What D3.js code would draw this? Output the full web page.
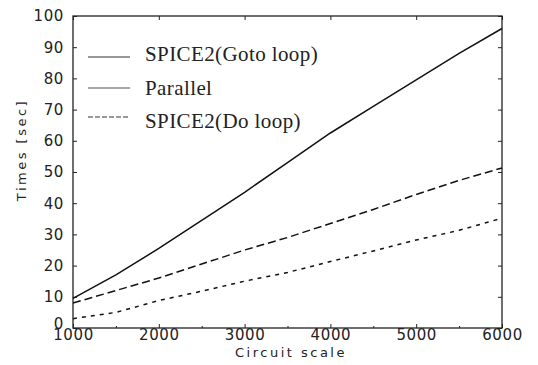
<!DOCTYPE html>
<html>
<head>
    <meta charset="UTF-8" />
    <title>Circuit scale vs time</title>
    <script src="https://d3js.org/d3.v7.min.js"></script>
    <style>
        body { margin: 0; background: #fff; }
        .tick text { font-family: "DejaVu Sans", sans-serif; font-size: 15px; letter-spacing: 0.6px; fill: #222; }
        .legend text { font-family: "Liberation Serif", "Times New Roman", serif; font-size: 21px; letter-spacing: 0.4px; fill: #222; }
        .title { font-family: "DejaVu Sans", sans-serif; font-size: 13px; letter-spacing: 2.5px; fill: #222; }
    </style>
</head>
<body>
<script type="text/javascript">

var scales = [1000, 1500, 2000, 2500, 3000, 3500, 4000, 4500, 5000, 5500, 6000]

var gotoLoop = [9.5, 17, 25.5, 34.5, 43.5, 53, 62.5, 71, 79.5, 88, 96]
var doLoop   = [8, 12, 16, 20.5, 25, 29, 33.5, 38, 42.8, 47.3, 51.3]
var parallel = [3, 5, 8.8, 11.8, 15, 17.8, 21.3, 24.7, 28.2, 31.3, 35.2]

var xTicks = [1000, 2000, 3000, 4000, 5000, 6000]
var yTicks = [0, 10, 20, 30, 40, 50, 60, 70, 80, 90, 100]

var legendNames = ["SPICE2(Goto loop)", "Parallel", "SPICE2(Do loop)"]

var width = 538
var height = 365
var margin = {left: 73, right: 36, top: 16, bottom: 37}

var svg = d3.select("body").append("svg")
    .attr("width", width)
    .attr("height", height)

var x = d3.scaleLinear().domain([1000, 6000]).range([margin.left, width - margin.right])
var y = d3.scaleLinear().domain([0, 100]).range([height - margin.bottom, margin.top])

// frame
svg.append("rect")
    .attr("x", x(1000)).attr("y", y(100))
    .attr("width", x(6000) - x(1000)).attr("height", y(0) - y(100))
    .attr("fill", "none").attr("stroke", "#222").attr("stroke-width", 1.3)

// axes with inward ticks
svg.append("g")
    .attr("transform", "translate(0," + y(0) + ")")
    .call(d3.axisBottom(x).tickValues(xTicks).tickFormat(d3.format("d")).tickSizeInner(-4).tickSizeOuter(0).tickPadding(1))

svg.append("g")
    .attr("transform", "translate(0," + y(100) + ")")
    .call(d3.axisTop(x).tickValues(xTicks).tickFormat("").tickSizeInner(-4).tickSizeOuter(0))

// minor ticks at the half thousands
svg.append("g")
    .attr("transform", "translate(0," + y(0) + ")")
    .call(d3.axisBottom(x).tickValues([1500, 2500, 3500, 4500, 5500]).tickFormat("").tickSizeInner(-2).tickSizeOuter(0))

var left = svg.append("g")
    .attr("transform", "translate(" + x(1000) + ",0)")
    .call(d3.axisLeft(y).tickValues(yTicks).tickSizeInner(-4).tickSizeOuter(0).tickPadding(9))
// the 0 label sits a little higher than the others so it clears 1000
left.selectAll(".tick text").filter(function(d) { return d == 0 }).attr("dy", "0.05em")

svg.append("g")
    .attr("transform", "translate(" + x(6000) + ",0)")
    .call(d3.axisRight(y).tickValues(yTicks).tickFormat("").tickSizeInner(-4).tickSizeOuter(0))

svg.selectAll(".domain").remove()
svg.selectAll(".tick line").attr("stroke", "#222")

// axis titles
svg.append("text")
    .attr("class", "title")
    .attr("x", 291)
    .attr("y", 357)
    .attr("text-anchor", "middle")
    .text("Circuit scale")

svg.append("text")
    .attr("class", "title")
    .attr("transform", "translate(26,150) rotate(-90)")
    .attr("text-anchor", "middle")
    .text("Times [sec]")

// lines
var line = d3.line()
    .x(function(d, i) { return x(scales[i]) })
    .y(function(d) { return y(d) })

var series = [
    {values: gotoLoop, dash: null},
    {values: doLoop, dash: "8,4"},
    {values: parallel, dash: "4,5"}
]

svg.append("g")
    .selectAll("path")
    .data(series)
    .enter().append("path")
    .attr("d", function(d) { return line(d.values) })
    .attr("fill", "none")
    .attr("stroke", "#111")
    .attr("stroke-width", 1.5)
    .attr("stroke-dasharray", function(d) { return d.dash })

// legend
var legendDash = [null, null, "5,2"]
var lineY = [57, 88, 117]
var textY = [61, 95, 128]

var legend = svg.append("g").attr("class", "legend")
legend.selectAll("line")
    .data(legendNames)
    .enter().append("line")
    .attr("x1", 88).attr("x2", 130)
    .attr("y1", function(d, i) { return lineY[i] })
    .attr("y2", function(d, i) { return lineY[i] })
    .attr("stroke", function(d, i) { return i == 1 ? "#555" : "#333" })
    .attr("stroke-width", 1)
    .attr("stroke-dasharray", function(d, i) { return legendDash[i] })

legend.selectAll("text")
    .data(legendNames)
    .enter().append("text")
    .attr("x", 145)
    .attr("y", function(d, i) { return textY[i] })
    .text(function(d) { return d })

</script>
</body>
</html>
